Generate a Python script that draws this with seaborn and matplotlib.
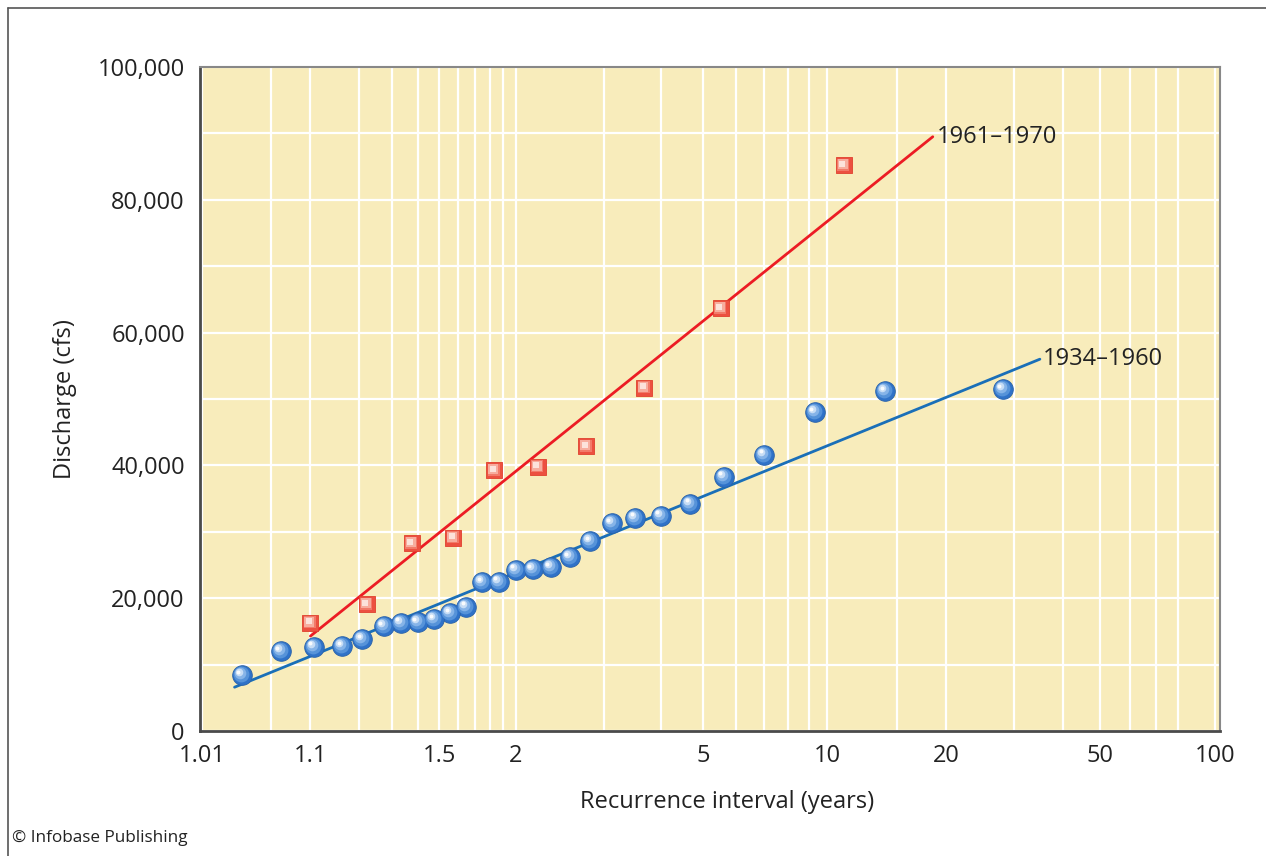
import matplotlib
matplotlib.use('Agg')
import matplotlib.pyplot as plt
import matplotlib.transforms as mtransforms
from matplotlib.lines import Line2D
from matplotlib.ticker import FixedLocator, FuncFormatter
import numpy as np
import pandas as pd
import seaborn as sns

# recurrence interval (years) and discharge (cfs)
t_old = [28, 14, 9.33, 7, 5.6, 4.67, 4, 3.5, 3.11, 2.8, 2.545, 2.33, 2.154, 2.0,
         1.867, 1.75, 1.647, 1.556, 1.474, 1.4, 1.333, 1.273, 1.21, 1.16, 1.105,
         1.06, 1.027]
q_old = [51500, 51200, 48000, 41600, 38300, 34200, 32400, 32100, 31300, 28600,
         26200, 24700, 24400, 24300, 22500, 22400, 18700, 17700, 16800, 16400,
         16300, 15800, 13800, 12800, 12700, 12000, 8400]

t_new = [11, 5.5, 3.667, 2.75, 2.2, 1.833, 1.571, 1.375, 1.222, 1.1]
q_new = [85200, 63700, 51700, 42900, 39800, 39300, 29100, 28300, 19100, 16300]

# fitted lines (end points)
fit_old_t = [1.023, 34.9]
fit_old_q = [6600, 56000]
fit_new_t = [1.1, 18.5]
fit_new_q = [14300, 89500]

major_t = [1.01, 1.1, 1.5, 2, 5, 10, 20, 50, 100]
minor_t = [1.05, 1.2, 1.3, 1.4, 1.6, 1.7, 1.8, 1.9, 3, 4, 6, 7, 8, 9, 15,
           30, 40, 60, 70, 80]


def gumbel(t):
    t = np.asarray(t, dtype=float)
    p = 1.0 - 1.0 / np.clip(t, 1.000001, None)
    return -np.log(-np.log(p))


def gumbel_inv(y):
    y = np.asarray(y, dtype=float)
    return 1.0 / (1.0 - np.exp(-np.exp(-y)))


sns.set_style('white')
plt.rcParams['font.family'] = ['Open Sans', 'DejaVu Sans']
plt.rcParams['axes.unicode_minus'] = False
FS = 17
INK = '#222222'

df_old = pd.DataFrame({'T': t_old, 'Q': q_old})
df_new = pd.DataFrame({'T': t_new, 'Q': q_new})

fig = plt.figure(figsize=(12.66, 8.56), dpi=100)
ax = fig.add_axes([0.158, 0.146, 0.8057, 0.7757])
ax.set_facecolor('#f8ecbb')
ax.set_xscale('function', functions=(gumbel, gumbel_inv))

sns.lineplot(x=fit_old_t, y=fit_old_q, ax=ax, color='#1a6fb8', lw=2, zorder=3)
sns.lineplot(x=fit_new_t, y=fit_new_q, ax=ax, color='#ec1c24', lw=2, zorder=3)

sns.scatterplot(data=df_old, x='T', y='Q', ax=ax, marker='o', s=200,
                color='#2f72c8', edgecolor='#2a62a8', linewidth=0.6, zorder=4)
sns.scatterplot(data=df_new, x='T', y='Q', ax=ax, marker='s', s=125,
                color='#ec5040', edgecolor='#e0402e', linewidth=0.6, zorder=4)

# glossy shading, a few soft layers shifted up-left
layers_old = [(130, '#5b97dc', 0.9, -1), (70, '#8cb8ea', 0.9, -2),
              (30, '#cfe2f7', 0.9, -3), (8, '#ffffff', 0.9, -3.5)]
for size, col, a, off in layers_old:
    tr = mtransforms.offset_copy(ax.transData, fig=fig, x=off, y=-off,
                                 units='dots')
    ax.scatter(t_old, q_old, s=size, color=col, alpha=a, lw=0,
               transform=tr, zorder=5)

layers_new = [(80, '#f37f6e', 0.9, -0.5), (42, '#f8b3a5', 0.9, -1),
              (16, '#fde6df', 0.95, -1.5)]
for size, col, a, off in layers_new:
    tr = mtransforms.offset_copy(ax.transData, fig=fig, x=off, y=-off,
                                 units='dots')
    ax.scatter(t_new, q_new, s=size, marker='s', color=col, alpha=a, lw=0,
               transform=tr, zorder=5)

ax.annotate('1961\u20131970', (fit_new_t[1], fit_new_q[1]), xytext=(3, 0),
            textcoords='offset points', ha='left', va='center', fontsize=FS,
            color=INK)
ax.annotate('1934\u20131960', (fit_old_t[1], fit_old_q[1]), xytext=(2, 0),
            textcoords='offset points', ha='left', va='center', fontsize=FS,
            color=INK)

ax.set_xlim(1.0094, 102.8)
ax.set_ylim(0, 100000)
ax.xaxis.set_major_locator(FixedLocator(major_t))
ax.xaxis.set_minor_locator(FixedLocator(minor_t))
ax.xaxis.set_major_formatter(FuncFormatter(lambda v, p: f'{v:g}'))
ax.xaxis.set_minor_formatter(FuncFormatter(lambda v, p: ''))
ax.set_yticks(np.arange(0, 100001, 20000))
ax.set_yticks(np.arange(10000, 100000, 20000), minor=True)
ax.yaxis.set_major_formatter(FuncFormatter(lambda v, p: f'{int(v):,}'))

ax.grid(True, which='both', color='white', lw=1.6)
ax.set_axisbelow(True)
ax.tick_params(axis='both', which='both', length=0, labelsize=FS,
               labelcolor=INK)
ax.tick_params(axis='x', pad=9)
ax.tick_params(axis='y', pad=11)

for side in ['left', 'bottom']:
    ax.spines[side].set_color('#4a4a4a')
    ax.spines[side].set_linewidth(2)
for side in ['top', 'right']:
    ax.spines[side].set_color('#888888')
    ax.spines[side].set_linewidth(1.5)

ax.set_xlabel('Recurrence interval (years)', fontsize=FS, color=INK,
              labelpad=16)
ax.xaxis.label.set_x(0.517)
ax.set_ylabel('Discharge (cfs)', fontsize=FS, color=INK, labelpad=15)

fig.text(0.0095, 0.021, '\u00a9 Infobase Publishing', fontsize=12.3,
         color=INK, va='center')

# outer frame (left and top)
fig.add_artist(Line2D([0.0065, 0.0065], [0, 0.9905], color='#555555', lw=1.2,
                      transform=fig.transFigure))
fig.add_artist(Line2D([0.0065, 1], [0.9905, 0.9905], color='#555555', lw=1.2,
                      transform=fig.transFigure))

fig.savefig('out.png', dpi=100)
